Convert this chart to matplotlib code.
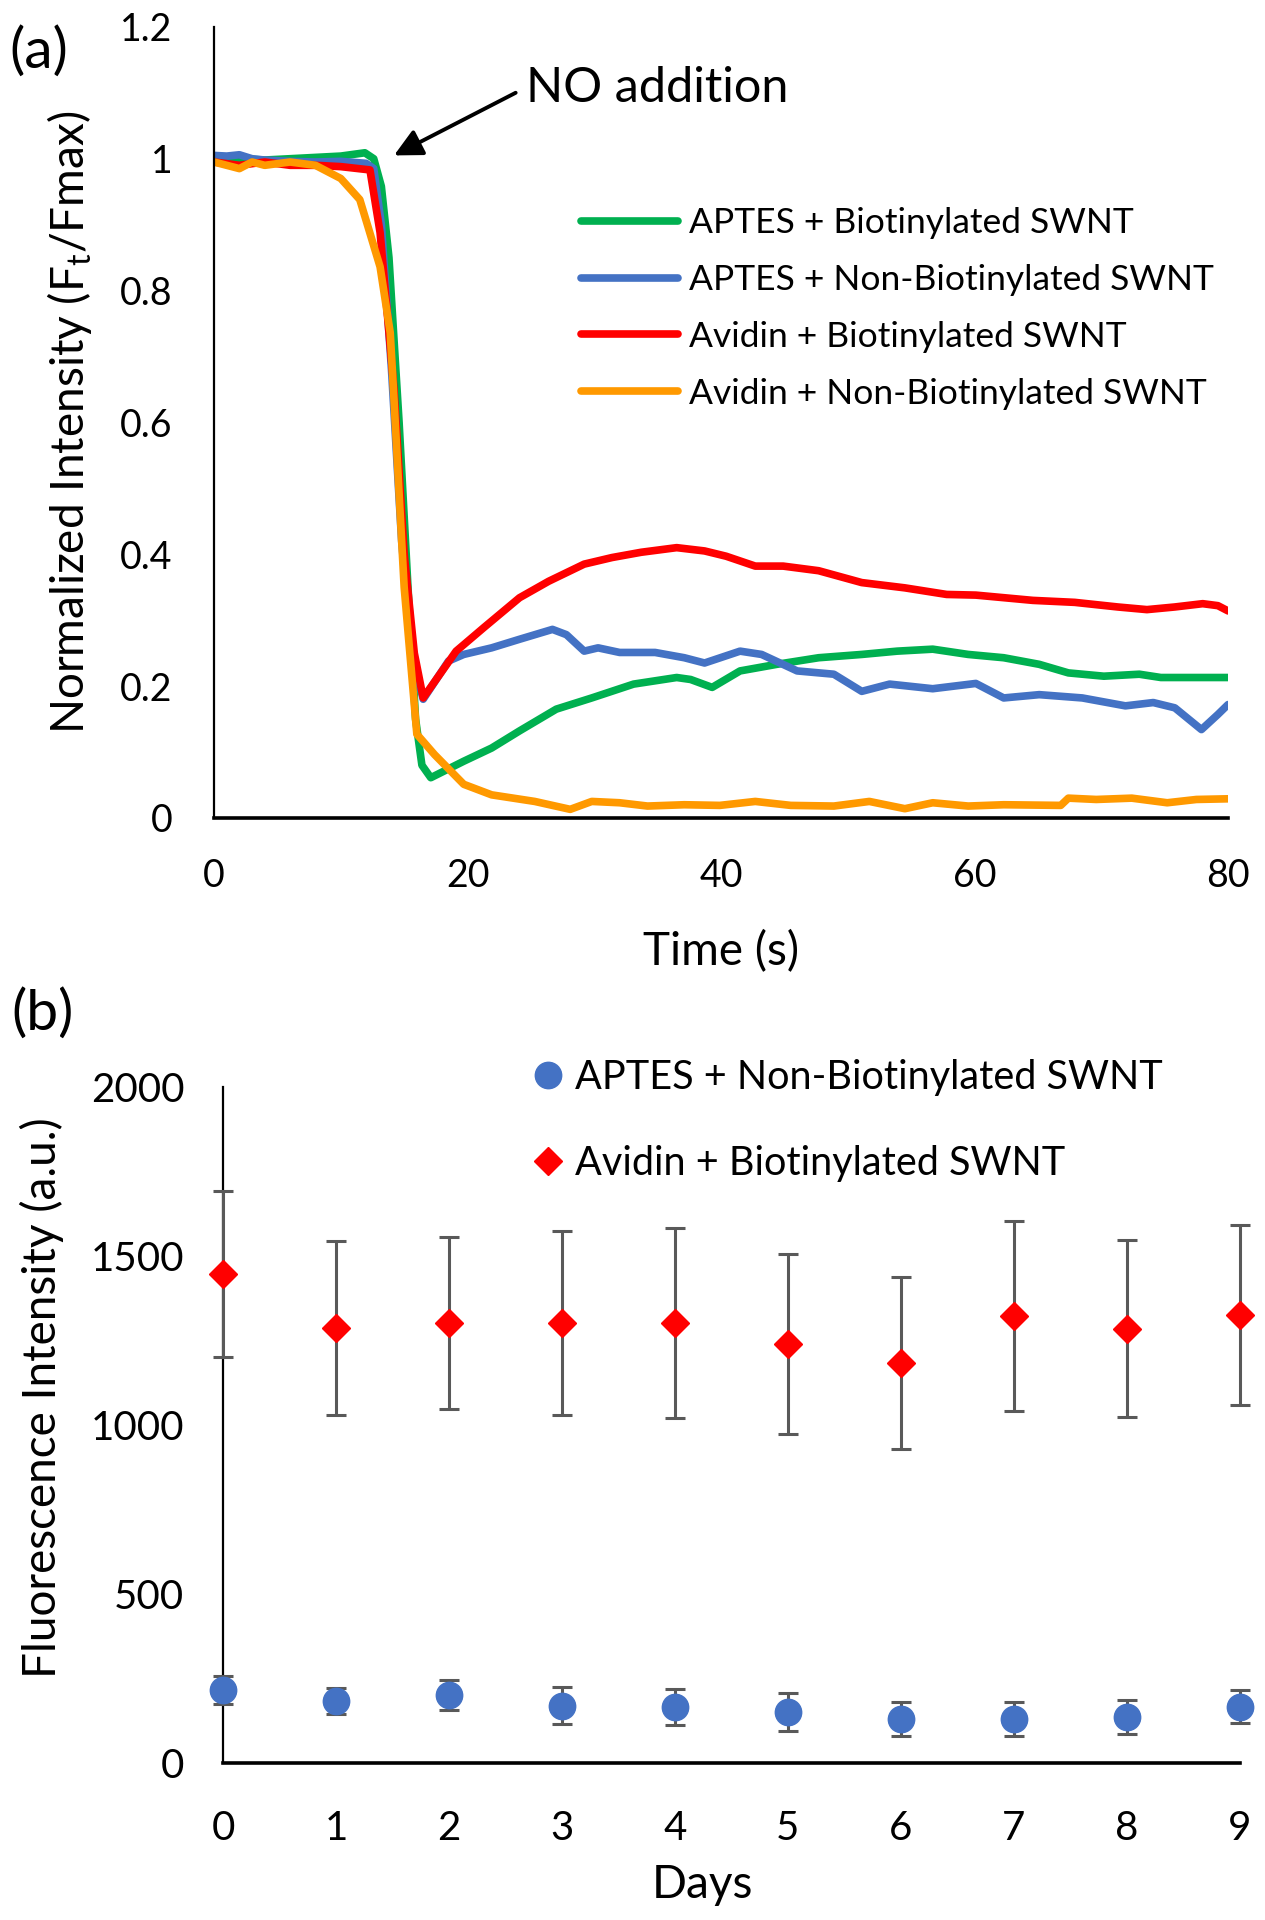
import numpy as np
import matplotlib
matplotlib.use("Agg")
import matplotlib.pyplot as plt

plt.rcParams["font.family"] = ["Lato", "DejaVu Sans"]
plt.rcParams["mathtext.fontset"] = "custom"
plt.rcParams["mathtext.rm"] = "Lato"
plt.rcParams["mathtext.it"] = "Lato"
plt.rcParams["mathtext.default"] = "regular"

# ── panel (a) data: normalized intensity vs time ──────────────────────────────

green_t = [0, 2, 4, 6, 8, 10, 11.9, 12.6, 13.2, 13.8, 14.6, 15.3, 15.9, 16.4, 17.1,
           19.7, 21.9, 24.1, 27.0, 29.8, 33.1, 36.5, 37.6, 39.3, 41.5, 44.4, 47.7,
           51.1, 53.9, 56.7, 59.5, 62.3, 65.1, 67.4, 70.2, 73.0, 74.7, 76.9, 80]
green_v = [1.0, 1.0, 0.998, 1.0, 1.002, 1.004, 1.009, 1.0, 0.958, 0.85, 0.6, 0.35, 0.15,
           0.08, 0.061, 0.086, 0.106, 0.132, 0.165, 0.182, 0.203, 0.213, 0.21, 0.198,
           0.223, 0.233, 0.243, 0.248, 0.253, 0.256, 0.248, 0.243, 0.233, 0.22, 0.215,
           0.218, 0.213, 0.213, 0.213]

blue_t = [0, 1, 2, 3, 4, 6, 8, 10, 12, 12.6, 13.2, 14.0, 14.8, 15.6, 16.5, 18.5, 19.7,
          21.9, 24.1, 26.7, 27.8, 29.2, 30.3, 32.0, 34.8, 37.1, 38.7, 41.5, 43.2, 46.0,
          48.9, 51.1, 53.3, 56.7, 60.1, 62.3, 65.1, 68.5, 71.9, 74.1, 75.8, 77.9, 79.2, 80]
blue_v = [1.005, 1.004, 1.006, 1.0, 0.998, 0.996, 0.995, 0.996, 0.993, 0.985, 0.9, 0.68,
          0.42, 0.25, 0.18, 0.238, 0.248, 0.258, 0.271, 0.286, 0.278, 0.253, 0.258, 0.251,
          0.251, 0.243, 0.235, 0.253, 0.248, 0.223, 0.218, 0.192, 0.203, 0.196, 0.204,
          0.182, 0.187, 0.182, 0.17, 0.175, 0.167, 0.134, 0.157, 0.172]

red_t = [0, 2, 4, 6, 8, 10, 12.3, 13.1, 14.2, 15.0, 15.8, 16.5, 19.1, 21.3, 24.1, 26.4,
         29.2, 31.4, 33.7, 36.5, 38.7, 40.4, 42.7, 44.9, 47.7, 51.1, 54.5, 57.8, 60.1,
         64.6, 67.9, 71.3, 73.6, 75.8, 78.0, 79.2, 80]
red_v = [0.995, 0.99, 0.995, 0.99, 0.99, 0.988, 0.983, 0.888, 0.65, 0.4, 0.25, 0.182,
         0.253, 0.289, 0.334, 0.359, 0.385, 0.395, 0.403, 0.41, 0.405, 0.397, 0.382,
         0.382, 0.375, 0.357, 0.349, 0.339, 0.338, 0.330, 0.327, 0.32, 0.316, 0.32,
         0.325, 0.322, 0.314]

orange_t = [0, 1, 2, 3, 4, 6, 8, 8.5, 10, 11.5, 13.1, 13.9, 14.2, 15.0, 16.0, 17.4, 19.7,
            21.9, 25.3, 28.1, 29.8, 32.0, 34.2, 37.1, 39.9, 42.7, 45.5, 48.9, 51.7, 54.5,
            56.7, 59.5, 62.3, 66.8, 67.4, 69.6, 72.4, 75.2, 77.5, 80]
orange_v = [0.995, 0.99, 0.985, 0.995, 0.99, 0.995, 0.99, 0.985, 0.97, 0.938, 0.836,
            0.736, 0.634, 0.35, 0.127, 0.096, 0.051, 0.035, 0.025, 0.013, 0.025, 0.023,
            0.018, 0.02, 0.019, 0.025, 0.019, 0.018, 0.025, 0.014, 0.023, 0.018, 0.02,
            0.019, 0.03, 0.028, 0.03, 0.023, 0.028, 0.029]

series_a = [
    ("APTES + Biotinylated SWNT", green_t, green_v, "#00B050"),
    ("APTES + Non-Biotinylated SWNT", blue_t, blue_v, "#4472C4"),
    ("Avidin + Biotinylated SWNT", red_t, red_v, "#FF0000"),
    ("Avidin + Non-Biotinylated SWNT", orange_t, orange_v, "#FF9900"),
]

# ── panel (b) data: fluorescence over days ────────────────────────────────────

days = [0, 1, 2, 3, 4, 5, 6, 7, 8, 9]
aptes_mean = [216, 183, 201, 169, 166, 151, 130, 130, 136, 166]
aptes_err = [41, 38, 44, 55, 54, 56, 49, 49, 50, 49]
avidin_mean = [1447, 1287, 1302, 1302, 1302, 1240, 1183, 1322, 1284, 1325]
avidin_err = [245, 257, 255, 272, 282, 267, 255, 281, 262, 265]

fig = plt.figure(figsize=(12.65, 19.2), dpi=100)

# ── panel (a) ─────────────────────────────────────────────────────────────────

ax1 = fig.add_axes([0.1692, 0.574, 0.8016, 0.412])
for label, t, v, c in series_a:
    ax1.plot(t, v, color=c, lw=5.5, label=label, solid_joinstyle="round",
             solid_capstyle="round")

ax1.set_xlim(0, 80)
ax1.set_ylim(0, 1.2)
ax1.set_xticks([0, 20, 40, 60, 80])
ax1.set_yticks([0, 0.2, 0.4, 0.6, 0.8, 1.0, 1.2])
ax1.set_yticklabels(["0", "0.2", "0.4", "0.6", "0.8", "1", "1.2"])
ax1.tick_params(length=0, labelsize=27)
ax1.tick_params(axis="y", pad=30)
ax1.tick_params(axis="x", pad=29)
for s in ["top", "right"]:
    ax1.spines[s].set_visible(False)
ax1.spines["left"].set_linewidth(1.6)
ax1.spines["bottom"].set_linewidth(2.6)
ax1.set_xlabel("Time (s)", fontsize=33)
ax1.xaxis.set_label_coords(0.5, -0.142)
ax1.set_ylabel("Normalized Intensity (F$_t$/Fmax)", fontsize=33)
ax1.yaxis.set_label_coords(-0.118, 0.5)

ax1.annotate("NO addition", xy=(14.2, 1.005), xytext=(24.6, 1.108),
             fontsize=35, va="center", ha="left",
             arrowprops=dict(arrowstyle="-|>", color="black", lw=2.8,
                             mutation_scale=42, shrinkA=6, shrinkB=0,
                             relpos=(0, 0.5)))

ax1.legend(loc="upper left", bbox_to_anchor=(0.348, 0.79), frameon=False,
           fontsize=25.5, handlelength=2.75, handletextpad=0.3, labelspacing=0.7,
           borderaxespad=0)

fig.text(0.031, 0.973, "(a)", fontsize=41, ha="center", va="center")

# ── panel (b) ─────────────────────────────────────────────────────────────────

ax2 = fig.add_axes([0.1763, 0.0818, 0.8039, 0.3521])
ax2.errorbar(days, aptes_mean, yerr=aptes_err, fmt="none", ecolor="#595959",
             elinewidth=2.2, capsize=7.5, capthick=2.2, clip_on=False, zorder=3)
ax2.errorbar(days, avidin_mean, yerr=avidin_err, fmt="none", ecolor="#595959",
             elinewidth=2.2, capsize=7.5, capthick=2.2, clip_on=False, zorder=3)
ax2.plot(days, aptes_mean, "o", color="#4472C4", ms=19, mec="#4472C4",
         label="APTES + Non-Biotinylated SWNT", clip_on=False, zorder=4)
ax2.plot(days, avidin_mean, "D", color="#FF0000", ms=14.5, mec="#FF0000",
         label="Avidin + Biotinylated SWNT", clip_on=False, zorder=4)

ax2.set_xlim(0, 9)
ax2.set_ylim(0, 2000)
ax2.set_xticks(days)
ax2.set_yticks([0, 500, 1000, 1500, 2000])
ax2.tick_params(length=0, labelsize=29)
ax2.tick_params(axis="y", pad=28)
ax2.tick_params(axis="x", pad=34)
for s in ["top", "right"]:
    ax2.spines[s].set_visible(False)
ax2.spines["left"].set_linewidth(1.6)
ax2.spines["bottom"].set_linewidth(2.6)
ax2.set_xlabel("Days", fontsize=33)
ax2.xaxis.set_label_coords(0.471, -0.150)
ax2.set_ylabel("Fluorescence Intensity (a.u.)", fontsize=33)
ax2.yaxis.set_label_coords(-0.156, 0.54)

ax2.legend(loc="upper left", bbox_to_anchor=(0.288, 1.065), frameon=False,
           fontsize=28.5, handlelength=0.8, handletextpad=0.3, labelspacing=1.25,
           borderaxespad=0, numpoints=1)

fig.text(0.034, 0.472, "(b)", fontsize=41, ha="center", va="center")

plt.savefig("out.png", dpi=100)
